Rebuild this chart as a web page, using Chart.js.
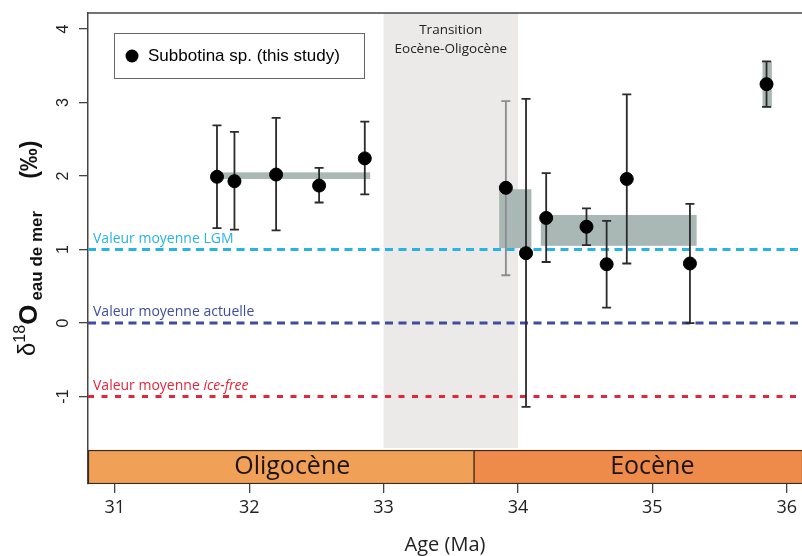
<!DOCTYPE html>
<html>
<head>
<meta charset="utf-8">
<script src="https://cdn.jsdelivr.net/npm/chart.js@4/dist/chart.umd.min.js"></script>
<style>
  body { margin: 0; background: #fff; }
  canvas { display: block; }
</style>
</head>
<body>
<canvas id="myChart" width="802" height="556"></canvas>
<script>
'use strict';

// samples (age in Ma, d18O seawater in permil)
const ages = [31.76, 31.89, 32.20, 32.52, 32.86, 33.91, 34.06, 34.21, 34.51, 34.66, 34.81, 35.28, 35.85];
const d18O = [1.99, 1.93, 2.02, 1.87, 2.24, 1.84, 0.95, 1.43, 1.31, 0.80, 1.96, 0.81, 3.25];
const errLow = [1.29, 1.27, 1.26, 1.64, 1.75, 0.65, -1.14, 0.83, 1.06, 0.21, 0.81, 0.00, 2.94];
const errHigh = [2.69, 2.60, 2.79, 2.11, 2.74, 3.02, 3.05, 2.04, 1.56, 1.39, 3.11, 1.62, 3.56];

// grey mean boxes
const meanFrom = [31.76, 33.86, 34.17, 35.82];
const meanTo = [32.90, 34.10, 35.33, 35.89];
const meanLow = [1.96, 1.02, 1.05, 2.93];
const meanHigh = [2.05, 1.82, 1.47, 3.56];

// reference levels
const refValues = [1, 0, -1];
const refLabels = ['Valeur moyenne LGM', 'Valeur moyenne actuelle', 'Valeur moyenne '];
const refItalic = ['', '', 'ice-free'];
const refColors = ['#27b4e4', '#3e4d9c', '#e3263a'];

// epochs and transition
const epochNames = ['Oligocène', 'Eocène'];
const epochFrom = [30.5, 33.67];
const epochTo = [33.67, 36.5];
const epochLabelAt = [32.32, 35.0];
const epochColors = ['#f0a157', '#ee8b4b'];
const transition = [33, 34];
const transitionLabel = ['Transition', 'Eocène-Oligocène'];

const xTicks = [31, 32, 33, 34, 35, 36];
const yTicks = [-1, 0, 1, 2, 3, 4];
const xMin = 30.8, xMax = 36.114;
const yMin = -2.19, yMax = 4.218;
const yPlotFloor = -1.70;
const yBandTop = -1.728;

const ctx = document.getElementById('myChart').getContext('2d');

const decorPlugin = {
  id: 'decor',
  beforeDatasetsDraw(chart) {
    const { ctx, chartArea: a, scales: { x, y } } = chart;
    ctx.save();
    ctx.beginPath();
    ctx.rect(a.left, a.top, a.right - a.left, a.bottom - a.top);
    ctx.clip();
    // transition region
    ctx.fillStyle = '#ece9e9';
    const tx0 = x.getPixelForValue(transition[0]);
    const tx1 = x.getPixelForValue(transition[1]);
    ctx.fillRect(tx0, a.top, tx1 - tx0, y.getPixelForValue(yPlotFloor) - a.top);
    ctx.fillStyle = '#222';
    ctx.font = '13.5px "Open Sans"';
    ctx.textAlign = 'center';
    ctx.textBaseline = 'middle';
    ctx.fillText(transitionLabel[0], (tx0 + tx1) / 2, 30);
    ctx.fillText(transitionLabel[1], (tx0 + tx1) / 2, 49);
    // mean boxes
    ctx.fillStyle = '#aab8b5';
    meanFrom.forEach((v, i) => {
      const px0 = x.getPixelForValue(v), px1 = x.getPixelForValue(meanTo[i]);
      const py0 = y.getPixelForValue(meanHigh[i]), py1 = y.getPixelForValue(meanLow[i]);
      ctx.fillRect(px0, py0, px1 - px0, py1 - py0);
    });
    // epoch band
    const by0 = y.getPixelForValue(yBandTop), by1 = a.bottom;
    epochNames.forEach((name, i) => {
      const px0 = Math.max(a.left, x.getPixelForValue(epochFrom[i]));
      const px1 = Math.min(a.right, x.getPixelForValue(epochTo[i]));
      ctx.fillStyle = epochColors[i];
      ctx.fillRect(px0, by0, px1 - px0, by1 - by0);
      ctx.strokeStyle = '#3b2a1e';
      ctx.lineWidth = 1.2;
      ctx.strokeRect(px0 + 0.5, by0 + 0.5, px1 - px0, by1 - by0 - 1);
      ctx.fillStyle = '#1c1410';
      ctx.font = '25px "Open Sans"';
      ctx.fillText(name, x.getPixelForValue(epochLabelAt[i]), (by0 + by1) / 2);
    });
    ctx.restore();
  },
  beforeDatasetDraw(chart, args) {
    if (args.index !== 0) return;
    const { ctx, scales: { x, y } } = chart;
    ctx.save();
    ctx.lineWidth = 1.8;
    ages.forEach((age, i) => {
      const px = x.getPixelForValue(age);
      const inside = age > transition[0] && age < transition[1];
      ctx.strokeStyle = inside ? '#8c8c8c' : '#2a2a2a';
      const lo = y.getPixelForValue(errLow[i]), hi = y.getPixelForValue(errHigh[i]);
      ctx.beginPath();
      ctx.moveTo(px, lo); ctx.lineTo(px, hi);
      ctx.moveTo(px - 4.5, lo); ctx.lineTo(px + 4.5, lo);
      ctx.moveTo(px - 4.5, hi); ctx.lineTo(px + 4.5, hi);
      ctx.stroke();
    });
    ctx.restore();
  },
  afterDatasetsDraw(chart) {
    const { ctx, chartArea: a, scales: { y } } = chart;
    ctx.save();
    ctx.textAlign = 'left';
    ctx.textBaseline = 'alphabetic';
    refValues.forEach((v, i) => {
      const py = y.getPixelForValue(v) - 7;
      ctx.fillStyle = refColors[i];
      ctx.font = '14px "Open Sans"';
      ctx.fillText(refLabels[i], a.left + 5, py);
      if (refItalic[i]) {
        const w = ctx.measureText(refLabels[i]).width;
        ctx.font = 'italic 14px "Open Sans"';
        ctx.fillText(refItalic[i], a.left + 5 + w, py);
      }
    });
    // frame top line
    ctx.strokeStyle = '#444';
    ctx.lineWidth = 1.5;
    ctx.beginPath();
    ctx.moveTo(a.left, a.top); ctx.lineTo(a.right, a.top);
    ctx.stroke();
    // legend box
    ctx.fillStyle = '#fff';
    ctx.fillRect(114, 33, 250, 45);
    ctx.strokeStyle = '#666';
    ctx.lineWidth = 1;
    ctx.strokeRect(114.5, 33.5, 250, 45);
    ctx.fillStyle = '#000';
    ctx.beginPath();
    ctx.arc(132, 56, 6.5, 0, Math.PI * 2);
    ctx.fill();
    ctx.font = '17px "Liberation Sans"';
    ctx.textBaseline = 'middle';
    ctx.fillText(chart.data.datasets[0].label, 148, 56);
    ctx.restore();
  },
  afterDraw(chart) {
    const { ctx, scales: { y } } = chart;
    ctx.save();
    // rotated y tick labels
    ctx.fillStyle = '#222';
    ctx.font = '16px "Liberation Sans"';
    ctx.textAlign = 'center';
    ctx.textBaseline = 'middle';
    yTicks.forEach(v => {
      ctx.save();
      ctx.translate(64, y.getPixelForValue(v));
      ctx.rotate(-Math.PI / 2);
      ctx.fillText(String(v), 0, 0);
      ctx.restore();
    });
    // y axis title
    ctx.translate(37, 356);
    ctx.rotate(-Math.PI / 2);
    ctx.textAlign = 'left';
    ctx.textBaseline = 'alphabetic';
    ctx.fillStyle = '#111';
    let cx = 0;
    const part = (txt, font, dy) => {
      ctx.font = font;
      ctx.fillText(txt, cx, dy);
      cx += ctx.measureText(txt).width;
    };
    part('δ', '24px "Liberation Sans"', -2);
    part('18', '16px "Liberation Sans"', -12);
    part('O', 'bold 26px "Liberation Sans"', 0);
    cx += 4;
    part('eau de mer', 'bold 17px "Liberation Sans"', 5);
    cx += 32;
    part('(‰)', 'bold 23px "Liberation Sans"', 0);
    ctx.restore();
  }
};

const myChart = new Chart(ctx, {
  type: 'scatter',
  data: {
    datasets: [{
      label: 'Subbotina sp. (this study)',
      data: ages.map((a, i) => ({ x: a, y: d18O[i] })),
      backgroundColor: '#000',
      borderColor: '#000',
      pointRadius: 6.5,
      pointHoverRadius: 6.5,
      order: 0
    }].concat(refValues.map((v, i) => ({
      type: 'line',
      label: refLabels[i] + refItalic[i],
      data: [{ x: xMin, y: v }, { x: xMax, y: v }],
      borderColor: refColors[i],
      borderWidth: 3,
      borderDash: i === 2 ? [6, 7.5] : [8, 5.5],
      pointRadius: 0,
      order: 2
    })))
  },
  options: {
    responsive: false,
    animation: false,
    layout: { autoPadding: false, padding: { top: 13, right: 0, left: 0, bottom: 0 } },
    plugins: {
      legend: { display: false },
      tooltip: { enabled: false }
    },
    scales: {
      x: {
        type: 'linear',
        min: xMin,
        max: xMax,
        afterBuildTicks: s => { s.ticks = xTicks.map(v => ({ value: v })); },
        afterFit: s => { s.height = 72; s.paddingLeft = 0; s.paddingRight = 0; },
        grid: { drawOnChartArea: false, drawTicks: true, tickLength: 9, color: '#444', lineWidth: 1.3 },
        border: { display: false },
        ticks: { color: '#222', font: { family: 'Open Sans', size: 18 }, padding: 4, maxRotation: 0 },
        title: {
          display: true,
          text: 'Age (Ma)',
          color: '#222',
          font: { family: 'Open Sans', size: 20, lineHeight: 1.1 },
          padding: 0
        }
      },
      y: {
        min: yMin,
        max: yMax,
        afterBuildTicks: s => { s.ticks = yTicks.map(v => ({ value: v })); },
        afterFit: s => { s.width = 88; s.paddingTop = 0; s.paddingBottom = 0; },
        grid: { drawOnChartArea: false, drawTicks: true, tickLength: 9, color: '#444', lineWidth: 1.3 },
        border: { display: true, color: '#444', width: 1.5 },
        ticks: { display: false }
      }
    }
  },
  plugins: [decorPlugin]
});
</script>
</body>
</html>
